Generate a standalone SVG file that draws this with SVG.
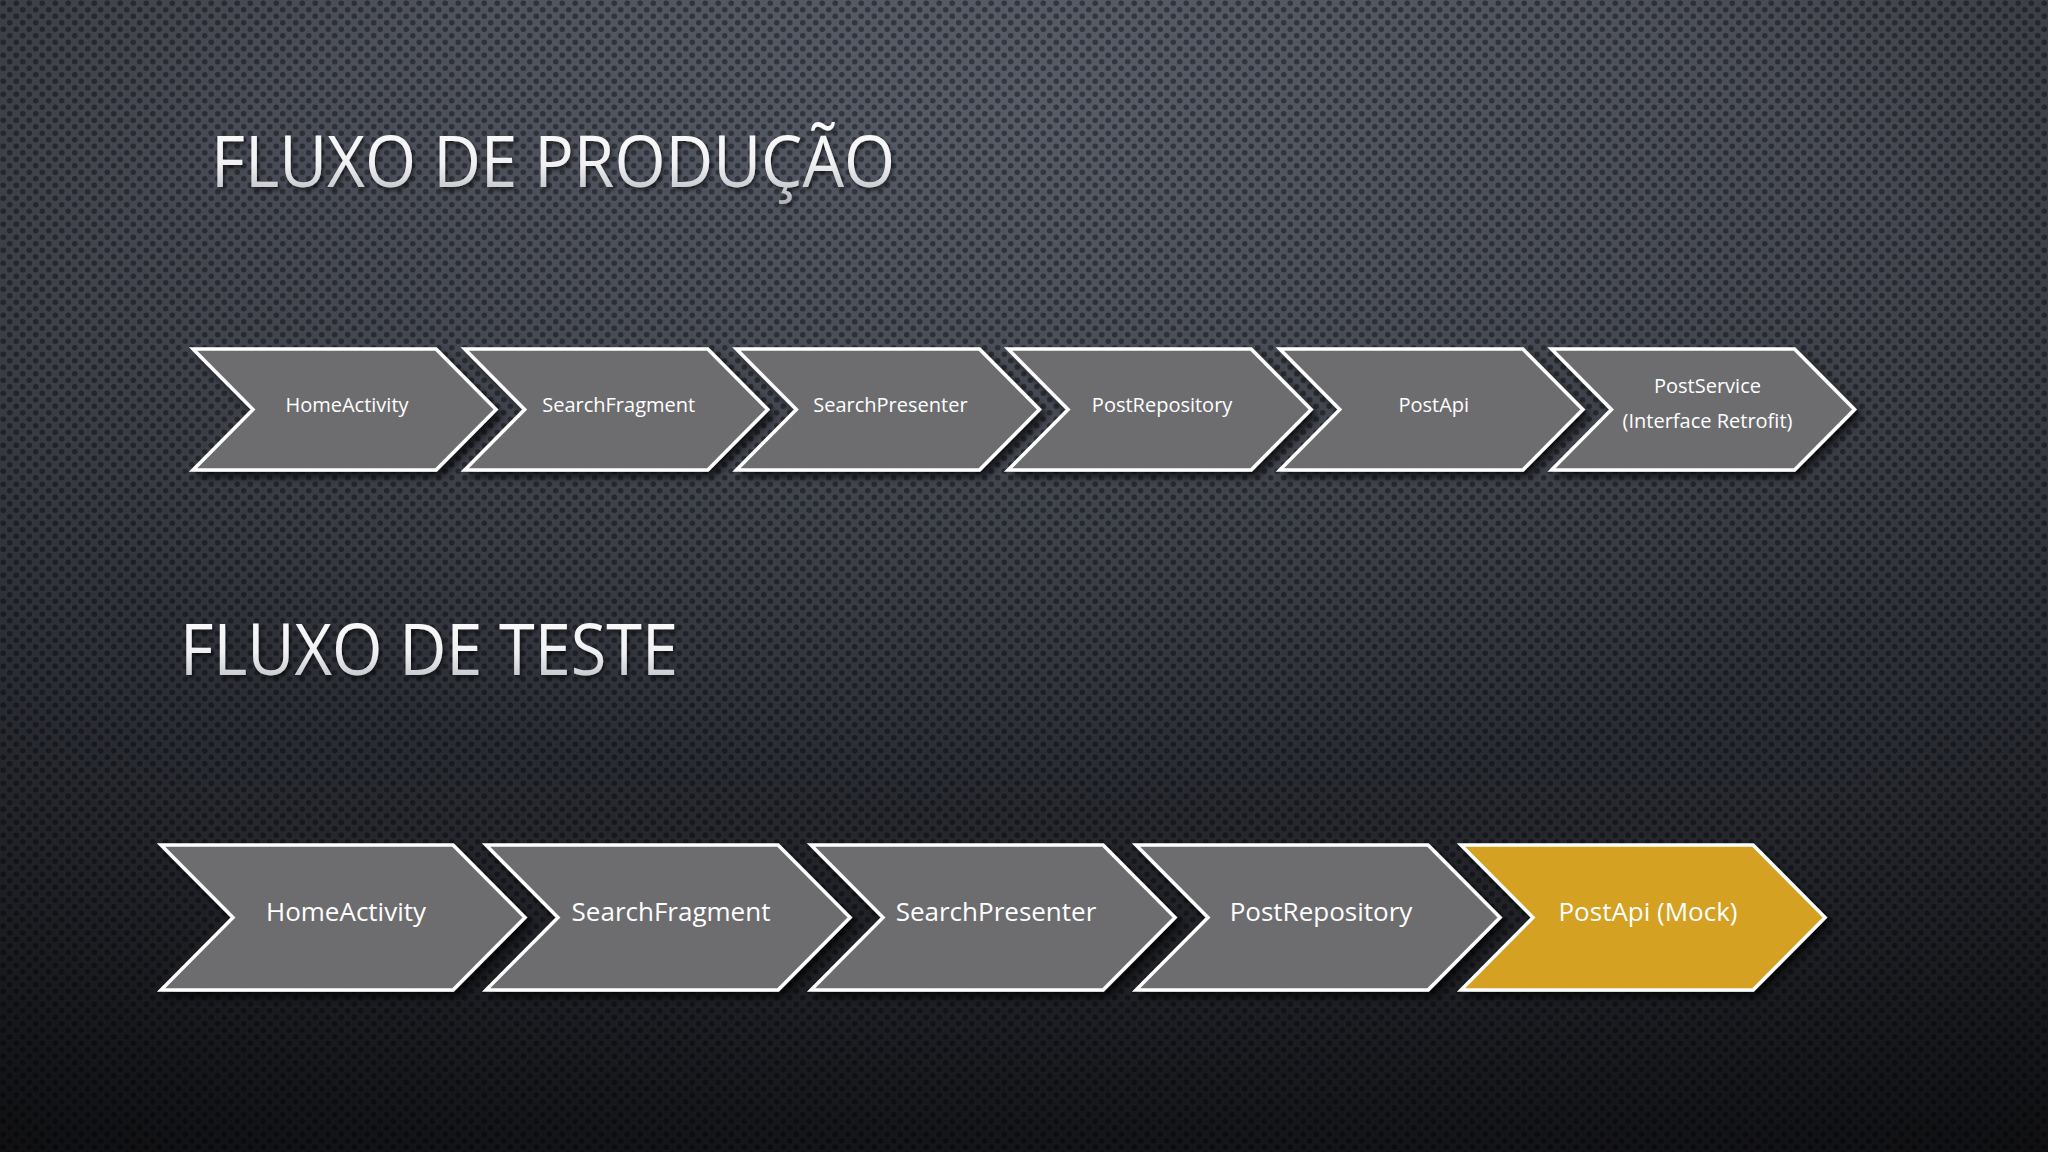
<svg xmlns="http://www.w3.org/2000/svg" width="2048" height="1152" viewBox="0 0 2048 1152">
  <defs>
    <linearGradient id="bgLin" x1="0" y1="0" x2="0" y2="1">
      <stop offset="0" stop-color="#454852"/>
      <stop offset="0.45" stop-color="#33363e"/>
      <stop offset="1" stop-color="#17181c"/>
    </linearGradient>
    <radialGradient id="bgGlow" cx="0.5" cy="0.1" r="0.6">
      <stop offset="0" stop-color="#6a6f7c" stop-opacity="0.55"/>
      <stop offset="1" stop-color="#6a6f7c" stop-opacity="0"/>
    </radialGradient>
    <radialGradient id="vign" cx="0.5" cy="0.4" r="0.8">
      <stop offset="0.6" stop-color="#000" stop-opacity="0"/>
      <stop offset="1" stop-color="#000" stop-opacity="0.35"/>
    </radialGradient>
    <pattern id="dots" width="13" height="13" patternUnits="userSpaceOnUse">
      <circle cx="3.25" cy="3.25" r="2.8" fill="#000" fill-opacity="0.4"/>
      <circle cx="9.75" cy="9.75" r="2.8" fill="#000" fill-opacity="0.4"/>
    </pattern>
    <linearGradient id="titleGrad" x1="0" y1="0" x2="0" y2="1">
      <stop offset="0" stop-color="#ffffff"/>
      <stop offset="0.55" stop-color="#f0f0f2"/>
      <stop offset="1" stop-color="#a9abb0"/>
    </linearGradient>
    <filter id="shadow" x="-10%" y="-20%" width="130%" height="150%">
      <feDropShadow dx="5" dy="5" stdDeviation="4" flood-color="#000" flood-opacity="0.75"/>
    </filter>
    <filter id="tshadow" x="-5%" y="-20%" width="110%" height="150%">
      <feDropShadow dx="2" dy="3" stdDeviation="2" flood-color="#000" flood-opacity="0.6"/>
    </filter>
    <polygon id="chevTop" points="0,0 243,0 303,60.5 243,121 0,121 60,60.5"/>
    <polygon id="chevBot" points="0,0 292,0 364,72.5 292,145 0,145 72,72.5"/>
  </defs>
  <style>
    .chev { fill: #6d6d70; stroke: #ffffff; stroke-width: 3.5; stroke-linejoin: miter; filter: url(#shadow); }
    .gold { fill: #d4a124; }
    .lbl { font-family: "Open Sans", "Noto Sans", "DejaVu Sans", sans-serif; fill: #ffffff; text-anchor: middle; }
    .sm { font-size: 20px; }
    .lg { font-size: 26px; }
    .title { font-family: "Open Sans", "Noto Sans", "DejaVu Sans", sans-serif; font-weight: 400; font-size: 71px; fill: url(#titleGrad); filter: url(#tshadow); }
  </style>

  <rect width="2048" height="1152" fill="url(#bgLin)"/>
  <rect width="2048" height="1152" fill="url(#bgGlow)"/>
  <rect width="2048" height="1152" fill="url(#dots)"/>
  <rect width="2048" height="1152" fill="url(#vign)"/>

  <g id="title-producao">
    <text class="title" x="211" y="187" textLength="684" lengthAdjust="spacingAndGlyphs">FLUXO DE PRODUÇÃO</text>
  </g>
  <g id="title-teste">
    <text class="title" x="180" y="675" textLength="498" lengthAdjust="spacingAndGlyphs">FLUXO DE TESTE</text>
  </g>

  <g id="prod-homeactivity" transform="translate(193,349)">
    <use href="#chevTop" class="chev"/>
    <text class="lbl sm" x="154" y="63">HomeActivity</text>
  </g>
  <g id="prod-searchfragment" transform="translate(464.7,349)">
    <use href="#chevTop" class="chev"/>
    <text class="lbl sm" x="154" y="63">SearchFragment</text>
  </g>
  <g id="prod-searchpresenter" transform="translate(736.4,349)">
    <use href="#chevTop" class="chev"/>
    <text class="lbl sm" x="154" y="63">SearchPresenter</text>
  </g>
  <g id="prod-postrepository" transform="translate(1008.1,349)">
    <use href="#chevTop" class="chev"/>
    <text class="lbl sm" x="154" y="63">PostRepository</text>
  </g>
  <g id="prod-postapi" transform="translate(1279.8,349)">
    <use href="#chevTop" class="chev"/>
    <text class="lbl sm" x="154" y="63">PostApi</text>
  </g>
  <g id="prod-postservice" transform="translate(1551.5,349)">
    <use href="#chevTop" class="chev"/>
    <text class="lbl sm" x="156" y="44">PostService</text>
    <text class="lbl sm" x="156" y="79">(Interface Retrofit)</text>
  </g>

  <g id="test-homeactivity" transform="translate(161,845)">
    <use href="#chevBot" class="chev"/>
    <text class="lbl lg" x="185" y="76">HomeActivity</text>
  </g>
  <g id="test-searchfragment" transform="translate(486,845)">
    <use href="#chevBot" class="chev"/>
    <text class="lbl lg" x="185" y="76">SearchFragment</text>
  </g>
  <g id="test-searchpresenter" transform="translate(811,845)">
    <use href="#chevBot" class="chev"/>
    <text class="lbl lg" x="185" y="76">SearchPresenter</text>
  </g>
  <g id="test-postrepository" transform="translate(1136,845)">
    <use href="#chevBot" class="chev"/>
    <text class="lbl lg" x="185" y="76">PostRepository</text>
  </g>
  <g id="test-postapi-mock" transform="translate(1461,845)">
    <use href="#chevBot" class="chev gold"/>
    <text class="lbl lg" x="187" y="76">PostApi (Mock)</text>
  </g>

  <g id="connectors"/>
</svg>
